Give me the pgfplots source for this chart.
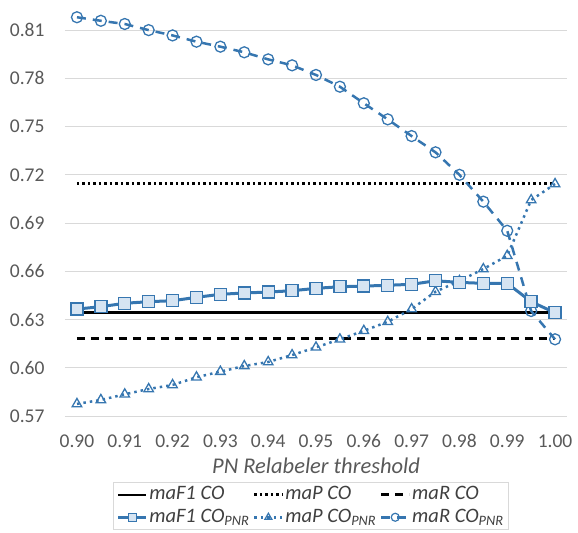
\documentclass[border=0pt]{standalone}
\usepackage{fontspec}
\setmainfont{Carlito}
\usepackage{pgfplots}
\pgfplotsset{compat=1.18}
\definecolor{ser}{RGB}{54,118,176}
\definecolor{serfill}{RGB}{214,228,242}
\definecolor{txt}{RGB}{89,89,89}
\definecolor{lgt}{RGB}{64,64,64}
\definecolor{grd}{RGB}{217,217,217}
\begin{document}
\begin{tikzpicture}
\begin{axis}[
  scale only axis, width=502bp, height=410bp,
  xmin=0.8975, xmax=1.0025, ymin=0.57, ymax=0.825,
  axis line style={draw=none},
  tick style={draw=none},
  ymajorgrids, grid style={grd, line width=1bp},
  xtick={0.90,0.91,0.92,0.93,0.94,0.95,0.96,0.97,0.98,0.99,1.00},
  ytick={0.57,0.60,0.63,0.66,0.69,0.72,0.75,0.78,0.81},
  /pgf/number format/assume math mode=true,
  /pgf/number format/.cd, fixed, fixed zerofill, precision=2, /pgfplots/.cd,
  ticklabel style={font=\fontsize{19.5bp}{22bp}\selectfont, text=txt},
  yticklabel style={xshift=-17bp},
  xticklabel style={yshift=-15bp},
  scaled ticks=false,
  xlabel={PN Relabeler threshold},
  xlabel style={font=\fontsize{22.5bp}{24bp}\selectfont\itshape, text=txt, yshift=-3bp},
  legend columns=3,
  legend style={at={(0.49,-0.161)}, anchor=north, draw=grd, line width=1bp,
    font=\fontsize{20.5bp}{21bp}\selectfont\itshape, text=lgt,
    nodes={inner xsep=1.5bp, inner ysep=0.5bp, text height=15.5bp, text depth=6bp},
    /tikz/every even column/.append style={column sep=2bp},
    inner xsep=3bp, inner ysep=1bp},
  legend cell align=left,
  legend image code/.code={\draw[mark repeat=2,mark phase=2,#1] plot coordinates {(0bp,0bp) (14bp,0bp) (28bp,0bp)};},
]
\addplot[black, line width=2.5bp] coordinates {(0.90,0.6345) (1.00,0.6345)};
\addlegendentry{maF1 CO}
\addplot[black, line width=3bp, dash pattern=on 2.5bp off 3bp] coordinates {(0.90,0.7147) (1.00,0.7147)};
\addlegendentry{maP CO}
\addplot[black, line width=3bp, dash pattern=on 8bp off 6bp] coordinates {(0.90,0.6179) (1.00,0.6179)};
\addlegendentry{maR CO}
\addplot[forget plot, ser, line width=2.5bp, dash pattern=on 2.5bp off 4bp, mark=triangle, mark size=5.5bp,
  mark options={solid, fill=serfill, line width=1.3bp}] coordinates {
(0.900,0.5775) (0.905,0.5800) (0.910,0.5835) (0.915,0.5868) (0.920,0.5893)
(0.925,0.5941) (0.930,0.5976) (0.935,0.6011) (0.940,0.6036) (0.945,0.6079)
(0.950,0.6127) (0.955,0.6177) (0.960,0.6230) (0.965,0.6286) (0.970,0.6365)
(0.975,0.6473) (0.980,0.6540) (0.985,0.6614) (0.990,0.6697) (0.995,0.7043)
(1.000,0.7143)};
\addplot[forget plot, ser, line width=2.5bp, dash pattern=on 9bp off 7bp, mark=o, mark size=5.5bp,
  mark options={solid, fill=serfill, line width=1.3bp}] coordinates {
(0.900,0.8180) (0.905,0.8158) (0.910,0.8138) (0.915,0.8100) (0.920,0.8067)
(0.925,0.8028) (0.930,0.7997) (0.935,0.7962) (0.940,0.7918) (0.945,0.7881)
(0.950,0.7821) (0.955,0.7748) (0.960,0.7645) (0.965,0.7545) (0.970,0.7441)
(0.975,0.7340) (0.980,0.7200) (0.985,0.7033) (0.990,0.6852) (0.995,0.6353)
(1.000,0.6177)};
\addplot[forget plot, ser, line width=3bp, mark=square*, mark size=6bp,
  mark options={solid, fill=serfill, line width=1.3bp}] coordinates {
(0.900,0.6365) (0.905,0.6380) (0.910,0.6401) (0.915,0.6411) (0.920,0.6417)
(0.925,0.6438) (0.930,0.6457) (0.935,0.6465) (0.940,0.6471) (0.945,0.6479)
(0.950,0.6494) (0.955,0.6504) (0.960,0.6508) (0.965,0.6513) (0.970,0.6519)
(0.975,0.6541) (0.980,0.6531) (0.985,0.6525) (0.990,0.6525) (0.995,0.6411)
(1.000,0.6342)};
\addlegendimage{ser, line width=3bp, mark=square*, mark size=4bp, mark options={solid, fill=serfill, line width=1.2bp}}
\addlegendentry{maF1 CO\textsubscript{PNR}}
\addlegendimage{ser, line width=2.5bp, dash pattern=on 2.5bp off 4bp, mark=triangle, mark size=4bp, mark options={solid, fill=serfill, line width=1.2bp}}
\addlegendentry{maP CO\textsubscript{PNR}}
\addlegendimage{ser, line width=2.5bp, dash pattern=on 9bp off 7bp, mark=o, mark size=4bp, mark options={solid, fill=serfill, line width=1.2bp}}
\addlegendentry{maR CO\textsubscript{PNR}}
\end{axis}
\path (-65bp,-117bp) rectangle (513bp,416bp);
\end{tikzpicture}
\end{document}
